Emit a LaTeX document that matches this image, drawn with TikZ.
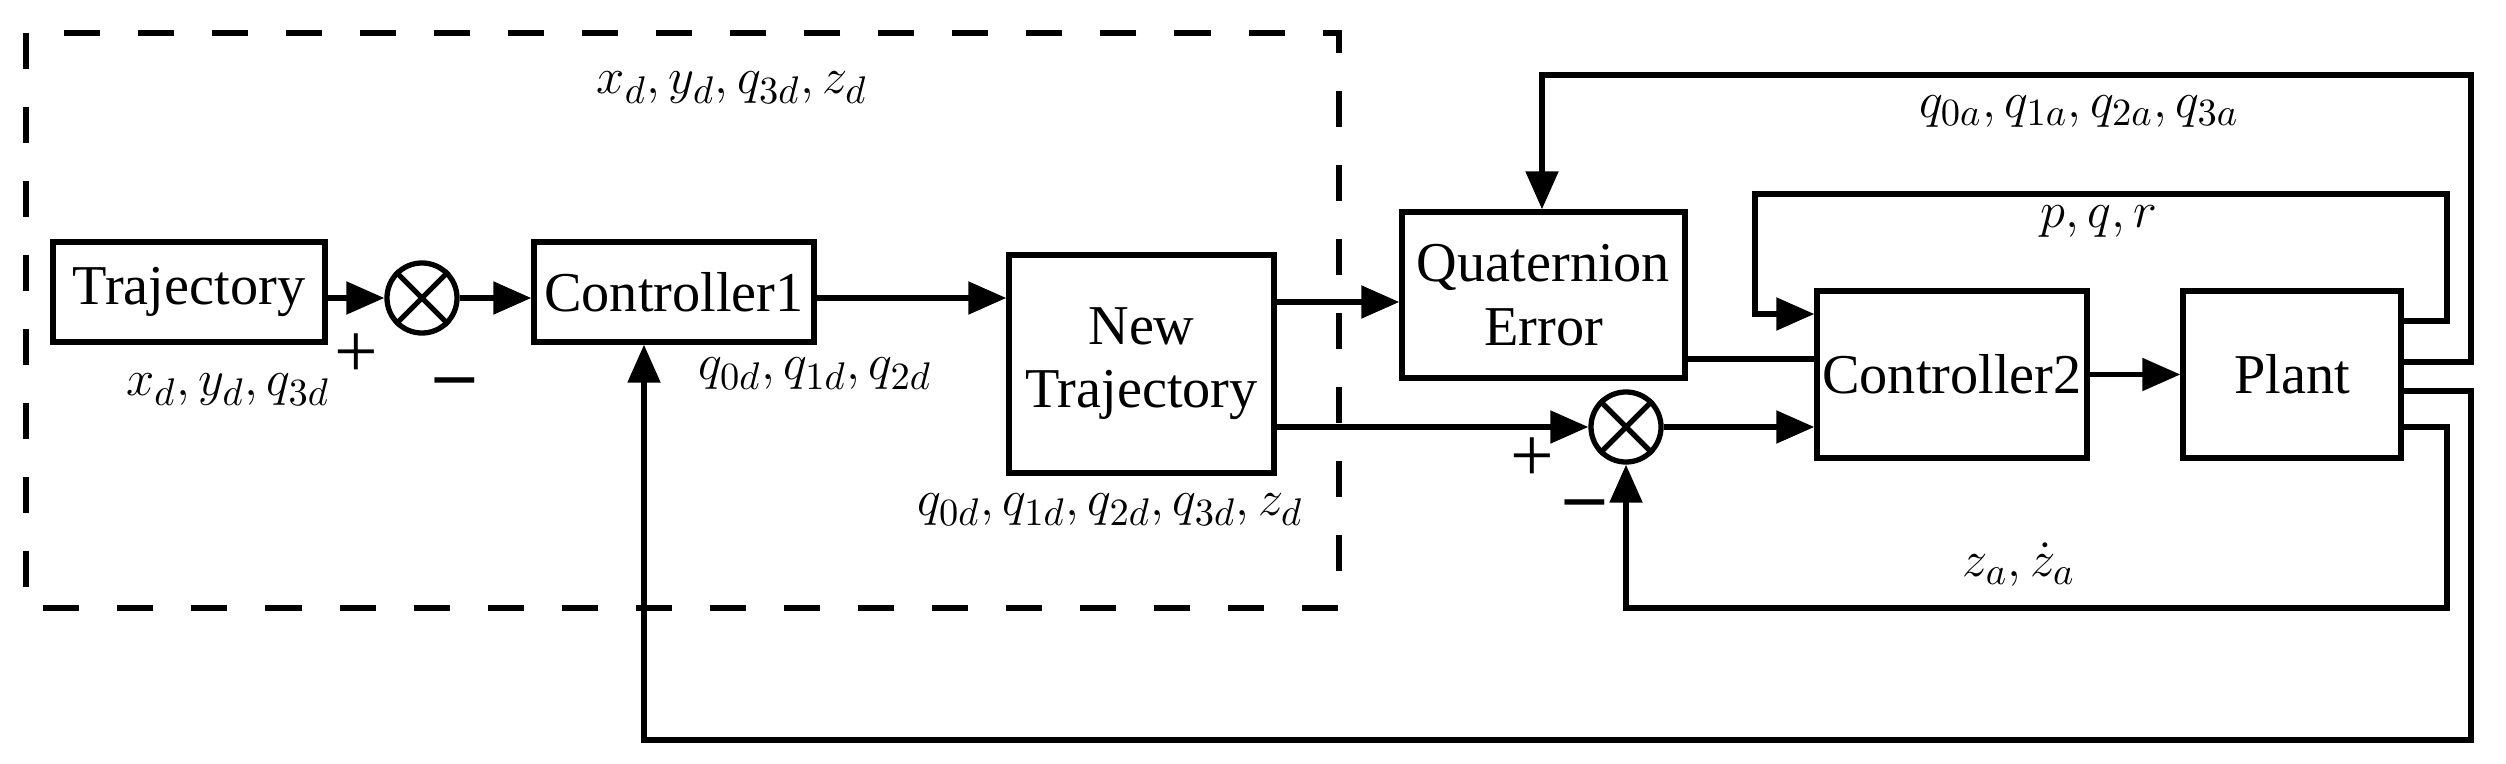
\documentclass[tikz,border=0pt]{standalone}
\usepackage{fontspec}
\setmainfont{Liberation Serif}
\usetikzlibrary{arrows.meta}
\begin{document}
\begin{tikzpicture}[x=0.01cm,y=-0.01cm,
  line width=1.5pt,
  blk/.style={draw,rectangle,inner sep=0pt,font=\fontsize{16}{18}\selectfont,align=center},
  sum/.style={draw,circle,minimum size=0.7cm,inner sep=0pt},
  lbl/.style={font=\fontsize{15.5}{18}\selectfont,inner sep=1pt},
  sgn/.style={font=\fontsize{22}{24}\selectfont,inner sep=1pt},
  arr/.style={-{Triangle[length=0.38cm,width=0.32cm]}}]
\useasboundingbox (0,0) rectangle (2506,764);
\draw[dash pattern=on 0.36cm off 0.38cm] (26,33) rectangle (1339,608);
\node[blk,minimum width=2.72cm,minimum height=1.0cm] (traj) at (189,292) {Trajectory};
\node[sum] (s1) at (422,298) {};
\draw (s1.45) -- (s1.225) (s1.135) -- (s1.315);
\node[blk,minimum width=2.8cm,minimum height=1.0cm] (c1) at (674,292) {Controller1};
\node[blk,minimum width=2.65cm,minimum height=2.18cm] (nt) at (1141.5,364) {New\\Trajectory};
\node[blk,minimum width=2.83cm,minimum height=1.66cm] (qe) at (1543.5,295) {Quaternion\\Error};
\node[sum] (s2) at (1626,427) {};
\draw (s2.45) -- (s2.225) (s2.135) -- (s2.315);
\node[blk,minimum width=2.7cm,minimum height=1.67cm] (c2) at (1952,374.5) {Controller2};
\node[blk,minimum width=2.18cm,minimum height=1.67cm] (pl) at (2292,374.5) {Plant};
\coordinate (s1y) at (0,298);
\draw[arr] (traj.east|-s1y) -- (s1.west);
\draw[arr] (s1.east) -- (c1.west|-s1y);
\draw[arr] (c1.east|-s1y) -- (nt.west|-s1y);
\draw[arr] (nt.east|-0,302) -- (qe.west|-0,302);
\draw[arr] (nt.east|-s2) -- (s2.west);
\draw[arr] (s2.east) -- (c2.west|-s2);
\draw (qe.east|-0,359) -- (c2.west|-0,359);
\draw[arr] (c2.east) -- (pl.west);
\draw[arr] (pl.east|-0,362) -- (2471,362) -- (2471,75) -- (1542,75) -- (qe.north-|1542,0);
\draw[arr] (pl.east|-0,321) -- (2447,321) -- (2447,194) -- (1755,194) -- (1755,314) -- (c2.west|-0,314);
\draw[arr] (pl.east|-0,427) -- (2447,427) -- (2447,608) -- (1626,608) -- (s2.south);
\draw[arr] (pl.east|-0,391) -- (2471,391) -- (2471,740) -- (644,740) -- (c1.south-|644,0);
\node[lbl] (l1) at (732,88) {$x_d,y_d,q_{3d},z_d$};
\node[lbl] (l2) at (228,390) {$x_d,y_d,q_{3d}$};
\node[lbl] (l3) at (815,374) {$q_{0d},q_{1d},q_{2d}$};
\node[lbl] (l4) at (1110,510) {$q_{0d},q_{1d},q_{2d},q_{3d},z_d$};
\node[lbl] (l5) at (2079,112) {$q_{0a},q_{1a},q_{2a},q_{3a}$};
\node[lbl] (l6) at (2099,222) {$p,q,r$};
\node[lbl] (l7) at (2019,565) {$z_a,\dot z_a$};
\node[sgn] (p1) at (356,356) {+};
\node[sgn] (m1) at (455,388) {\textbf{--}};
\node[sgn] (p2) at (1532,460) {+};
\node[sgn] (m2) at (1585,510) {\textbf{--}};
\end{tikzpicture}
\end{document}
